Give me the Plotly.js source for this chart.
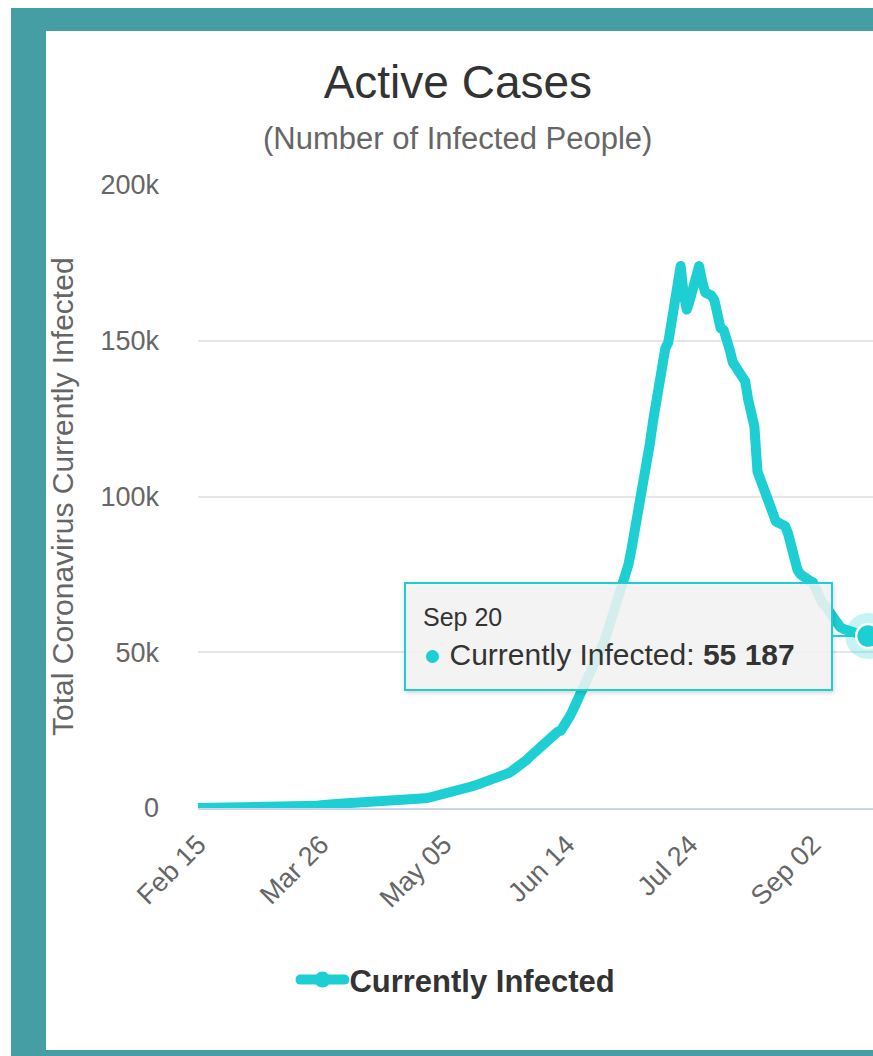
<!DOCTYPE html>
<html>
<head>
<meta charset="utf-8">
<script src="https://cdn.plot.ly/plotly-3.0.1.min.js"></script>
<style>
  html, body { margin: 0; padding: 0; background: #ffffff; overflow: hidden; width: 873px; height: 1056px; }
  #frame { position: absolute; left: 11px; top: 8px; width: 900px; height: 1100px; background: #459ea3; }
  #chart { position: absolute; left: 46px; top: 31px; width: 827px; height: 1019px; background: #ffffff; }
  #chart path.js-line { stroke-linejoin: round; stroke-linecap: round; }
  #chart .annotation rect.bg { filter: drop-shadow(1px 2px 2px rgba(0,0,0,0.18)); }
</style>
</head>
<body>
<div id="frame"></div>
<div id="chart"></div>
<script>
// ---- Data: active cases per day, 2020 ----
const febStart = 15;
const febValues = [0,0,0,0,0,0,0,0,0,0,0,0,0,0,0];
const marValues = [0,0,0,0,1,1,2,3,7,7,13,16,24,38,51,61,84,114,148,200,238,270,398,550,700,920,1160,1170,1250,1300,1320];
const aprValues = [1380,1420,1450,1500,1560,1600,1620,1640,1680,1720,1750,1800,1850,1870,1900,1950,2000,2050,2100,2150,2250,2300,2400,2500,2600,2700,2800,2950,3100,3300];
const mayValues = [3500,3700,3900,4100,4300,4500,4800,5100,5400,5700,6000,6300,6600,6900,7200,7500,7800,8100,8400,8700,9000,9300,9700,10100,10600,11200,11800,12400,13000,13700,14400];
const junValues = [15500,16500,17500,18500,19500,20500,21500,22500,23500,24200,24500,24800,26000,27500,29500,31500,33500,35500,37500,39500,41500,43500,45500,47700,50000,53000,56000,59000,62000,65000];
const julValues = [68000,70500,73500,78000,83000,88000,93000,98500,104000,110000,117000,124000,131000,139000,146000,147500,149500,156000,164000,170500,174000,165000,160000,163000,167000,171000,174000,169000,165500,165000,164500];
const augValues = [163000,158000,154000,153500,151000,147000,143000,141500,140500,139000,137000,131000,125500,122500,108000,105000,103000,100500,96500,93500,92000,91500,91000,90500,88000,83000,79000,76500,75000,74000,73500];
const sepValues = [73000,72500,70000,67500,66000,65000,63500,62500,61000,59500,58000,57500,57000,56500,56000,56200,55900,55700,55400,55187];

const xTickDates  = ['2020-02-15','2020-03-26','2020-05-05','2020-06-14','2020-07-24','2020-09-02'];
const xTickLabels = ['Feb 15','Mar 26','May 05','Jun 14','Jul 24','Sep 02'];
const yTickValues = [0, 50000, 100000, 150000, 200000];
const yTickLabels = ['0','50k','100k','150k','200k'];

const seriesName = 'Currently Infected';
const lineColor = '#1dcfd2';
const font = 'Liberation Sans, Arial, Helvetica, sans-serif';

// ---- Build date/value series ----
const months = [
  ['02', febValues, febStart], ['03', marValues, 1], ['04', aprValues, 1], ['05', mayValues, 1],
  ['06', junValues, 1], ['07', julValues, 1], ['08', augValues, 1], ['09', sepValues, 1]
];
const dates = [], values = [];
months.forEach(([mm, arr, start]) => {
  arr.forEach((v, i) => {
    const dd = String(start + i).padStart(2, '0');
    dates.push('2020-' + mm + '-' + dd);
    values.push(v);
  });
});

const lastDate = dates[dates.length - 1];
const lastValue = values[values.length - 1];
const monthNames = ['Jan','Feb','Mar','Apr','May','Jun','Jul','Aug','Sep','Oct','Nov','Dec'];
const ld = lastDate.split('-');
const lastLabel = monthNames[parseInt(ld[1], 10) - 1] + ' ' + parseInt(ld[2], 10);
const lastValueText = String(lastValue).replace(/\B(?=(\d{3})+(?!\d))/g, ' ');

const traces = [
  {
    x: dates, y: values, type: 'scatter', mode: 'lines', name: seriesName, showlegend: false,
    line: { color: lineColor, width: 10 }, hoverinfo: 'skip'
  },
  {
    // legend entry only (line with circle symbol), draws nothing in the plot
    x: [null], y: [null], type: 'scatter', mode: 'lines+markers', name: seriesName, showlegend: true,
    line: { color: lineColor, width: 10 }, marker: { color: lineColor, size: 16 }, hoverinfo: 'skip'
  },
  {
    x: [lastDate], y: [lastValue], type: 'scatter', mode: 'markers', showlegend: false,
    marker: { color: lineColor, size: 46, opacity: 0.25 }, cliponaxis: false, hoverinfo: 'skip'
  },
  {
    x: [lastDate], y: [lastValue], type: 'scatter', mode: 'markers', showlegend: false,
    marker: { color: lineColor, size: 24, line: { color: '#ffffff', width: 2.5 } }, cliponaxis: false, hoverinfo: 'skip'
  }
];

const layout = {
  width: 827, height: 1019,
  margin: { l: 152, r: 0, t: 154, b: 242 },
  paper_bgcolor: '#ffffff', plot_bgcolor: '#ffffff',
  font: { family: font, color: '#666666' },
  title: {
    text: 'Active Cases',
    font: { family: font, size: 46, color: '#333333' },
    x: 0.498, xref: 'container', xanchor: 'center',
    y: 0.95, yref: 'container', yanchor: 'middle'
  },
  showlegend: true,
  legend: {
    orientation: 'h', x: 0.385, xanchor: 'center', y: -0.276, yanchor: 'middle',
    font: { family: font, size: 31, color: '#333333', weight: 'bold' },
    itemwidth: 44, bgcolor: 'rgba(0,0,0,0)'
  },
  xaxis: {
    type: 'date',
    range: ['2020-02-15', '2020-09-21 14:00'],
    tickvals: xTickDates, ticktext: xTickLabels,
    tickangle: -45,
    tickfont: { family: font, size: 27, color: '#666666' },
    showgrid: false, zeroline: false,
    showline: true, linecolor: '#ccd6eb', linewidth: 2,
    ticks: '', ticklabelstandoff: 8,
    fixedrange: true
  },
  yaxis: {
    range: [0, 200000],
    tickvals: yTickValues, ticktext: yTickLabels,
    tickfont: { family: font, size: 27, color: '#666666' },
    showgrid: true, gridcolor: '#e6e6e6', gridwidth: 2,
    zeroline: false, showline: false,
    ticks: '', ticklabelstandoff: 38,
    fixedrange: true
  },
  annotations: [
    {
      text: '(Number of Infected People)',
      xref: 'paper', yref: 'paper', x: 0.385, y: 1.0754, xanchor: 'center', yanchor: 'middle',
      showarrow: false, font: { family: font, size: 31, color: '#666666' }
    },
    {
      text: 'Total Coronavirus Currently Infected',
      xref: 'paper', yref: 'paper', x: -0.2015, y: 0.5008, xanchor: 'center', yanchor: 'middle',
      textangle: -90, showarrow: false, font: { family: font, size: 30, color: '#666666' }
    },
    {
      text: '<span style="font-size:25px">' + lastLabel + '</span><br>' +
            '<span style="color:' + lineColor + '">\u25CF</span> ' + seriesName + ': <b>' + lastValueText + '</b>',
      xref: 'x', yref: 'y', x: lastDate, y: lastValue,
      ax: -249.5, ay: 0,
      showarrow: true, arrowhead: 0, arrowwidth: 2, arrowcolor: lineColor, standoff: 14,
      align: 'left', valign: 'middle',
      width: 391, height: 71, borderpad: 17,
      bgcolor: 'rgba(247,247,247,0.85)', bordercolor: lineColor, borderwidth: 2,
      font: { family: font, size: 30, color: '#333333' }
    }
  ]
};

Plotly.newPlot('chart', traces, layout, { displayModeBar: false, staticPlot: true });
</script>
</body>
</html>
